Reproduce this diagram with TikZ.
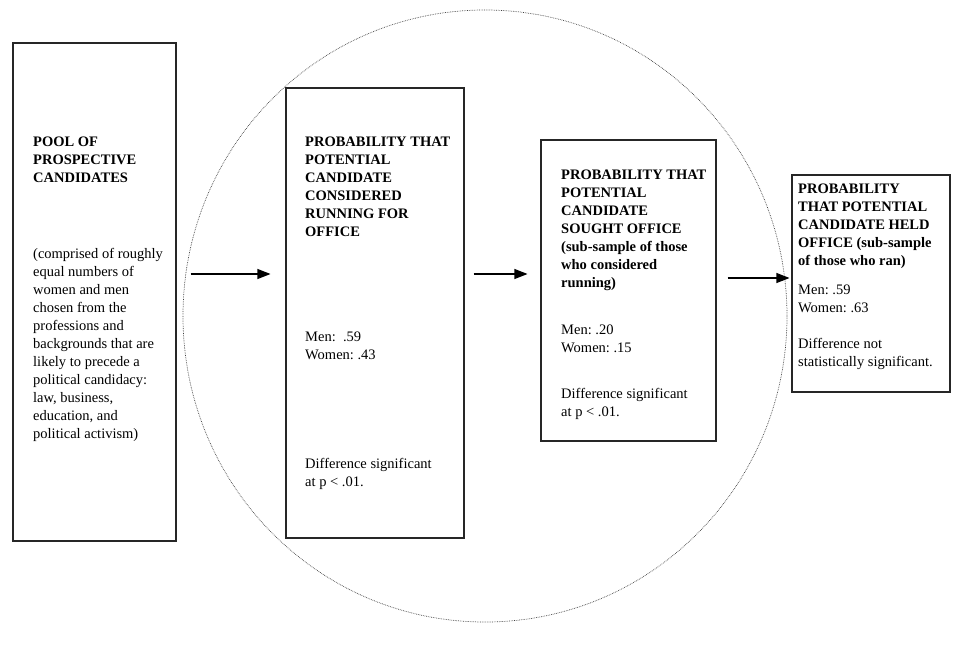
\documentclass[tikz,border=0pt]{standalone}
\usepackage{fontspec}
\setmainfont{Liberation Serif}
\usetikzlibrary{arrows.meta}
\frenchspacing
\begin{document}
\begin{tikzpicture}[x=1pt,y=-1pt,
  box/.style={draw=black!85, line width=1.1pt, inner sep=0pt},
  txt/.style={anchor=north west, inner sep=0pt, align=left, font=\fontsize{14.5}{18}\selectfont},
  txtb/.style={txt, font=\fontsize{14.5}{18}\selectfont\bfseries},
  arr/.style={line width=1.1pt, -{Triangle[length=13pt,width=10pt]}},
  ring/.style={draw=black!75, densely dotted, line width=0.7pt}]
\useasboundingbox (0,0) rectangle (954,653);
% dotted ellipse
\draw[ring] (485,316) ellipse [x radius=302pt, y radius=306pt];
% boxes
\node[box, minimum width=163pt, minimum height=498pt, fill=white] (b1) at (94.5,292) {};
\node[box, minimum width=178pt, minimum height=450pt, fill=white] (b2) at (375,313) {};
\node[box, minimum width=175pt, minimum height=301pt, fill=white] (b3) at (628.5,290.5) {};
\node[box, minimum width=158pt, minimum height=217pt, fill=white] (b4) at (871,283.5) {};
% texts box 1
\node[txtb] (t1a) at (33,137) {POOL OF\\PROSPECTIVE\\CANDIDATES};
\node[txt] (t1b) at (33,248) {(comprised of roughly\\equal numbers of\\women and men\\chosen from the\\professions and\\backgrounds that are\\likely to precede a\\political candidacy:\\law, business,\\education, and\\political activism)};
% texts box 2
\node[txtb] (t2a) at (305,137) {PROBABILITY THAT\\POTENTIAL\\CANDIDATE\\CONSIDERED\\RUNNING FOR\\OFFICE};
\node[txt] (t2b) at (305,332) {Men:\ \ .59\\Women: .43};
\node[txt] (t2c) at (305,458) {Difference significant\\at p < .01.};
% texts box 3
\node[txtb] (t3a) at (561,170) {PROBABILITY THAT\\POTENTIAL\\CANDIDATE\\SOUGHT OFFICE\\(sub-sample of those\\who considered\\running)};
\node[txt] (t3b) at (561,325) {Men: .20\\Women: .15};
\node[txt] (t3c) at (561,388) {Difference significant\\at p < .01.};
% texts box 4
\node[txtb] (t4a) at (798,184) {PROBABILITY\\THAT POTENTIAL\\CANDIDATE HELD\\OFFICE (sub-sample\\of those who ran)};
\node[txt] (t4b) at (798,285) {Men: .59\\Women: .63};
\node[txt] (t4c) at (798,338) {Difference not\\statistically significant.};
% arrow levels
\coordinate (y1) at (0,274);
\coordinate (y2) at (0,274);
\coordinate (y3) at (0,278);
\draw[arr, shorten <=14pt, shorten >=15pt] (b1.east |- y1) -- (b2.west |- y1);
\draw[arr, shorten <=9pt, shorten >=13pt] (b2.east |- y2) -- (b3.west |- y2);
\draw[arr, shorten <=11pt, shorten >=2pt] (b3.east |- y3) -- (b4.west |- y3);
\end{tikzpicture}
\end{document}
